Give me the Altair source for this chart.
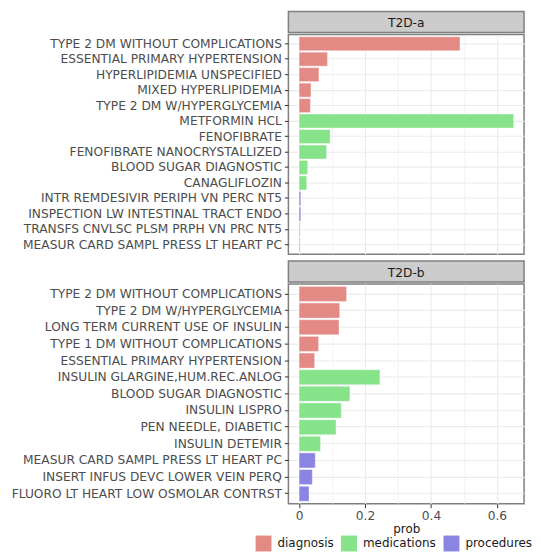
import altair as alt
import pandas as pd

# ---- data ----
a_labels = [
    "TYPE 2 DM WITHOUT COMPLICATIONS", "ESSENTIAL PRIMARY HYPERTENSION",
    "HYPERLIPIDEMIA UNSPECIFIED", "MIXED HYPERLIPIDEMIA", "TYPE 2 DM W/HYPERGLYCEMIA",
    "METFORMIN HCL", "FENOFIBRATE", "FENOFIBRATE NANOCRYSTALLIZED",
    "BLOOD SUGAR DIAGNOSTIC", "CANAGLIFLOZIN",
    "INTR REMDESIVIR PERIPH VN PERC NT5", "INSPECTION LW INTESTINAL TRACT ENDO",
    "TRANSFS CNVLSC PLSM PRPH VN PRC NT5", "MEASUR CARD SAMPL PRESS LT HEART PC",
]
a_values = [0.488, 0.086, 0.060, 0.036, 0.034,
            0.651, 0.094, 0.083, 0.026, 0.023,
            0.005, 0.005, 0.002, 0.002]
a_types = ["diagnosis"] * 5 + ["medications"] * 5 + ["procedures"] * 4

b_labels = [
    "TYPE 2 DM WITHOUT COMPLICATIONS", "TYPE 2 DM W/HYPERGLYCEMIA",
    "LONG TERM CURRENT USE OF INSULIN", "TYPE 1 DM WITHOUT COMPLICATIONS",
    "ESSENTIAL PRIMARY HYPERTENSION",
    "INSULIN GLARGINE,HUM.REC.ANLOG", "BLOOD SUGAR DIAGNOSTIC", "INSULIN LISPRO",
    "PEN NEEDLE, DIABETIC", "INSULIN DETEMIR",
    "MEASUR CARD SAMPL PRESS LT HEART PC", "INSERT INFUS DEVC LOWER VEIN PERQ",
    "FLUORO LT HEART LOW OSMOLAR CONTRST",
]
b_values = [0.144, 0.123, 0.121, 0.059, 0.047,
            0.245, 0.154, 0.128, 0.112, 0.065,
            0.049, 0.040, 0.030]
b_types = ["diagnosis"] * 5 + ["medications"] * 5 + ["procedures"] * 3

type_domain = ["diagnosis", "medications", "procedures"]
type_colors = ["#E48A84", "#86E38A", "#8A84E2"]
x_ticks = [0, 0.1, 0.2, 0.3, 0.4, 0.5, 0.6]

W = 237
SH = 21
PH = 221
FONT = "DejaVu Sans"
FS = 12.3


def panel(name, labels, values, types, bottom, height):
    df = pd.DataFrame({"label": labels, "prob": values, "type": types})
    strip = alt.Chart(pd.DataFrame({"t": [name]})).mark_text(
        font=FONT, fontSize=FS, color="#1a1a1a", baseline="middle", align="center"
    ).encode(
        text="t:N", x=alt.value(W / 2), y=alt.value(SH / 2 + 1)
    ).properties(width=W, height=SH,
                 view=alt.ViewBackground(fill="#cccccc", stroke="#7f7f7f", strokeWidth=1.5))

    grid_width = {"condition": {"test": "round(datum.value*10) % 2 == 1", "value": 0.6}, "value": 1.1}
    if bottom:
        xaxis = alt.Axis(values=x_ticks, title="prob", grid=True, gridColor="#ebebeb",
                         gridWidth=grid_width, domain=False,
                         labelExpr="round(datum.value*10) % 2 == 1 ? '' : datum.label",
                         tickOpacity={"condition": {"test": "round(datum.value*10) % 2 == 1", "value": 0}, "value": 1},
                         tickColor="#333333", tickSize=4, labelColor="#4d4d4d",
                         labelFont=FONT, labelFontSize=FS, labelPadding=2,
                         titleFont=FONT, titleFontSize=12, titleFontWeight="normal",
                         titleColor="#1a1a1a", titlePadding=2, format="~g")
    else:
        xaxis = alt.Axis(values=x_ticks, title=None, grid=True, gridColor="#ebebeb",
                         gridWidth=grid_width, domain=False, labels=False, ticks=False)

    # orient="none" legend: coordinates are relative to the first (top strip) cell
    legend = alt.Legend(title=None, orient="none", direction="horizontal",
                        legendX=-33, legendY=527, symbolType="square",
                        symbolSize=256, symbolStrokeWidth=0,
                        symbolOpacity=1, labelFont=FONT, labelFontSize=12,
                        labelColor="#1a1a1a", labelOffset=6,
                        columnPadding=7)

    bars = alt.Chart(df).mark_bar(stroke="white", strokeOpacity=0.35, strokeWidth=1).encode(
        y=alt.Y("label:N", sort=labels,
                scale=alt.Scale(paddingInner=0.1, paddingOuter=0.15),
                axis=alt.Axis(title=None, grid=True, gridColor="#ebebeb", gridWidth=1.1,
                              bandPosition=0.5, domain=False, tickColor="#333333",
                              tickSize=4, labelColor="#4d4d4d", labelFont=FONT,
                              labelFontSize=FS, labelPadding=3, labelLimit=400)),
        x=alt.X("prob:Q", scale=alt.Scale(domain=[-0.0325, 0.6825], nice=False, zero=False),
                axis=xaxis),
        x2=alt.datum(0),
        color=alt.Color("type:N", scale=alt.Scale(domain=type_domain, range=type_colors),
                        legend=legend),
    ).properties(width=W, height=height,
                 view=alt.ViewBackground(fill="white", stroke="#7f7f7f", strokeWidth=1.5))
    return alt.vconcat(strip, bars, spacing=0)


top = panel("T2D-a", a_labels, a_values, a_types, False, PH)
bot = panel("T2D-b", b_labels, b_values, b_types, True, PH)

chart = alt.vconcat(top, bot, spacing=5).resolve_legend(color="shared").properties(
    padding={"left": 2, "top": 1, "right": 0, "bottom": 0}
).configure_view(stroke="#7f7f7f")

chart.save("out.html", embed_options={"renderer": "svg", "actions": False})
